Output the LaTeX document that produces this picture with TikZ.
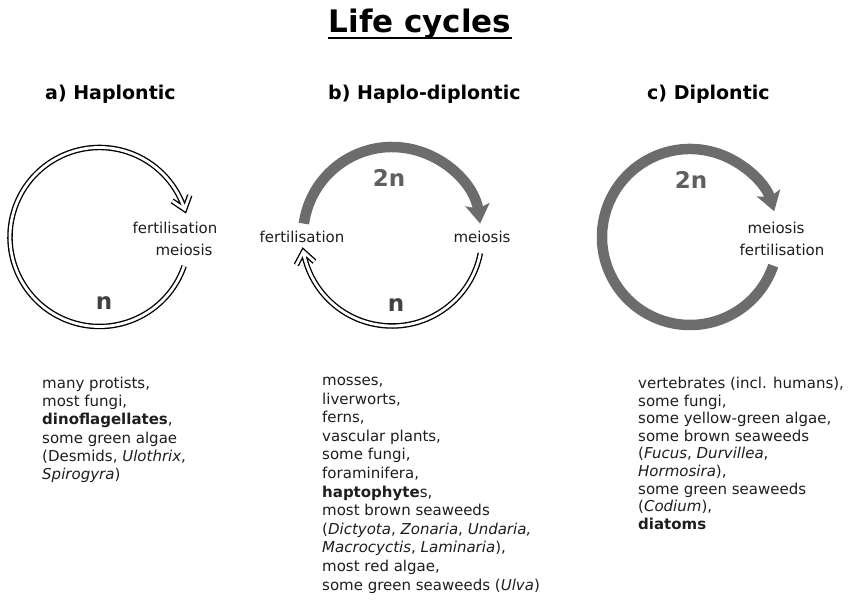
\documentclass[tikz,border=0pt]{standalone}
\usepackage{fontspec}
\setmainfont{DejaVu Sans}
\usetikzlibrary{arrows.meta,calc}
\definecolor{arcgray}{RGB}{108,108,108}
\definecolor{numgray}{RGB}{95,95,95}
\definecolor{txt}{RGB}{30,30,30}
\tikzset{
  hollow/.style={draw=black, line width=5.5pt, line join=miter,
    postaction={draw=white, line width=2.8pt, line join=miter}},
  grayarrow/.style={draw=arcgray, line width=10.5pt,
    -{Stealth[length=19pt,width=24pt,inset=4pt]}},
  lbl/.style={font=\fontsize{15}{17.5}\selectfont, text=txt, inner sep=0pt},
  ploidy/.style={font=\fontsize{23}{26}\selectfont\bfseries, inner sep=0pt},
  heading/.style={font=\fontsize{19}{22}\selectfont\bfseries, text=black, inner sep=0pt, anchor=base west},
  listblock/.style={text=txt, inner sep=0pt, anchor=north west, align=left}
}
\begin{document}
\begin{tikzpicture}[x=1pt,y=1pt]
\useasboundingbox[fill=white] (0,0) rectangle (856,601);

% title
\node[font=\fontsize{31}{35}\selectfont\bfseries, inner sep=0pt, anchor=base] (title) at (420,568) {Life cycles};
\draw[line width=1.6pt] ([yshift=-5pt]title.base west) -- ([yshift=-5pt]title.base east);

% headings
\node[heading] (ha) at (45,501) {a) Haplontic};
\node[heading] (hb) at (328,501) {b) Haplo-diplontic};
\node[heading] (hc) at (647,501) {c) Diplontic};

% ---- a) Haplontic
\coordinate (ca) at (99.5,364);
\coordinate (tipa) at ([shift={(18:89.5)}]ca);
\draw[hollow] ([shift={(-19:89.5)}]ca) arc[start angle=-19, end angle=-342, radius=89.5]
  ($(tipa)+(70:15)$) -- (tipa) -- ($(tipa)+(146:15)$);
\node[lbl] (afert) at (175,373) {fertilisation};
\node[lbl] (ameio) at (184,351) {meiosis};
\node[ploidy, text=black!75] (an) at (104,298) {n};

% ---- b) Haplo-diplontic
\coordinate (cb) at (392,365);
\draw[grayarrow] ([shift={(172:89)}]cb) arc[start angle=172, end angle=8, radius=89];
\coordinate (tipb) at ([shift={(-170:90)}]cb);
\draw[hollow] ([shift={(-11:90)}]cb) arc[start angle=-11, end angle=-170, radius=90]
  ($(tipb)+(-42:15)$) -- (tipb) -- ($(tipb)+(-118:15)$);
\node[lbl] (bfert) at (302,364) {fertilisation};
\node[lbl] (bmeio) at (482,364) {meiosis};
\node[ploidy, text=numgray] (b2n) at (389,423) {2n};
\node[ploidy, text=black!75] (bn) at (396,296) {n};

% ---- c) Diplontic
\coordinate (cc) at (690,364);
\draw[grayarrow] ([shift={(-19:88)}]cc) arc[start angle=-19, end angle=-343, radius=88];
\node[lbl] (cmeio) at (776,373) {meiosis};
\node[lbl] (cfert) at (782,351) {fertilisation};
\node[ploidy, text=numgray] (c2n) at (691,421) {2n};

% ---- lists
\node[listblock, font=\fontsize{15}{18.2}\selectfont] (la) at (42,224) {many protists,\\ most fungi,\\ \textbf{dinoflagellates},\\ some green algae\\ (Desmids, \textit{Ulothrix},\\ \textit{Spirogyra})};
\node[listblock, font=\fontsize{15}{18.6}\selectfont] (lb) at (322,224) {mosses,\\ liverworts,\\ ferns,\\ vascular plants,\\ some fungi,\\ foraminifera,\\ \textbf{haptophyte}s,\\ most brown seaweeds\\ (\textit{Dictyota}, \textit{Zonaria}, \textit{Undaria,}\\ \textit{Macrocyctis}, \textit{Laminaria}),\\ most red algae,\\ some green seaweeds (\textit{Ulva})};
\node[listblock, font=\fontsize{15}{17.6}\selectfont] (lc) at (638,224) {vertebrates (incl. humans),\\ some fungi,\\ some yellow-green algae,\\ some brown seaweeds\\ (\textit{Fucus}, \textit{Durvillea},\\ \textit{Hormosira}),\\ some green seaweeds\\ (\textit{Codium}),\\ \textbf{diatoms}};
\end{tikzpicture}
\end{document}
